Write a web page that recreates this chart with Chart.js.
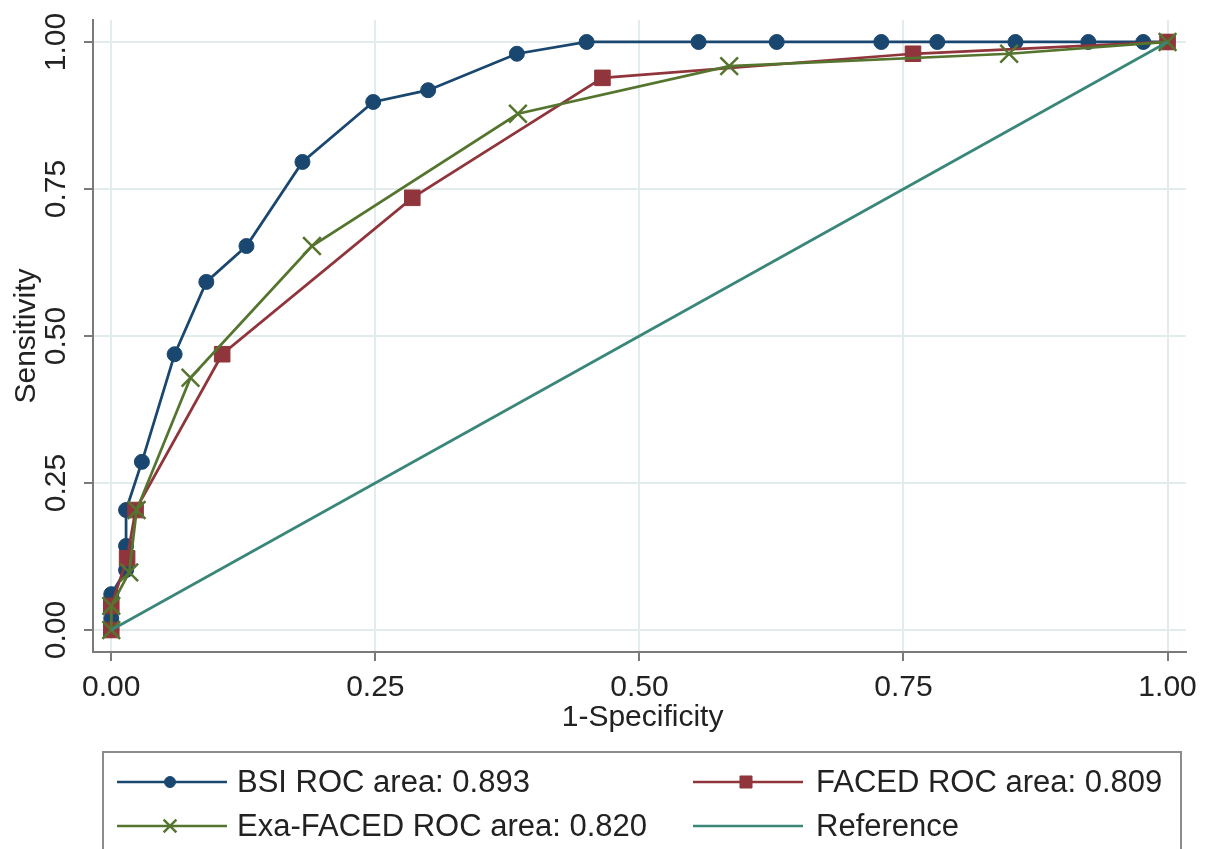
<!DOCTYPE html>
<html>
<head>
<meta charset="utf-8">
<script src="https://cdn.jsdelivr.net/npm/chart.js@4.4.1/dist/chart.umd.min.js"></script>
<style>
  html, body { margin: 0; padding: 0; background: #fff; }
  #wrap { width: 1206px; height: 849px; overflow: hidden; }
</style>
</head>
<body>
<div id="wrap"><canvas id="roc" width="1206" height="849"></canvas></div>
<script>
// 1-specificity / sensitivity pairs
const bsiFpr  = [0, 0, 0, 0.014, 0.014, 0.014, 0.029, 0.060, 0.090, 0.128, 0.181, 0.248, 0.300, 0.384, 0.450, 0.556, 0.630, 0.729, 0.782, 0.856, 0.925, 0.977, 1];
const bsiSens = [0, 0.020, 0.061, 0.102, 0.143, 0.204, 0.286, 0.469, 0.592, 0.653, 0.796, 0.898, 0.918, 0.980, 1, 1, 1, 1, 1, 1, 1, 1, 1];

const facedFpr  = [0, 0, 0.015, 0.023, 0.105, 0.285, 0.465, 0.759, 1];
const facedSens = [0, 0.041, 0.122, 0.204, 0.469, 0.735, 0.939, 0.980, 1];

const exaFpr  = [0, 0, 0.017, 0.024, 0.075, 0.190, 0.385, 0.585, 0.850, 1];
const exaSens = [0, 0.041, 0.098, 0.204, 0.429, 0.653, 0.878, 0.959, 0.980, 1];

const refFpr  = [0, 1];
const refSens = [0, 1];

const tickValues = [0, 0.25, 0.5, 0.75, 1];
const seriesLabels = ["BSI ROC area: 0.893", "FACED ROC area: 0.809", "Exa-FACED ROC area: 0.820", "Reference"];

const FONT = "'Liberation Sans', Arial, sans-serif";
const AXIS = '#7a7a7a';
const GRID = '#e3eced';
const TEXT = '#222';

Chart.defaults.font.family = FONT;

function pairs(xs, ys) {
    return xs.map((x, i) => ({ x: x, y: ys[i] }));
}

function fixedTicks(scale) {
    scale.ticks = tickValues.map(v => ({ value: v }));
}

// legend markers are a bit smaller than the ones in the plot
const legendMarks = [
    { style: 'circle', radius: 5.5 },
    { style: 'rect', radius: 8.5 },
    { style: 'crossRot', radius: 9 },
    { style: false, radius: 0 }
];

const stataExtras = {
    id: 'stataExtras',
    afterDraw(chart) {
        const ctx = chart.ctx;
        const yScale = chart.scales.y;
        const xScale = chart.scales.x;
        ctx.save();
        ctx.fillStyle = TEXT;
        ctx.font = "30px " + FONT;
        ctx.textAlign = 'center';
        ctx.textBaseline = 'middle';

        // vertical y tick labels
        tickValues.forEach(v => {
            const py = yScale.getPixelForValue(v);
            ctx.save();
            ctx.translate(57, py);
            ctx.rotate(-Math.PI / 2);
            ctx.fillText(v.toFixed(2), 0, 0);
            ctx.restore();
        });

        // axis titles
        ctx.save();
        ctx.translate(27, yScale.getPixelForValue(0.5));
        ctx.rotate(-Math.PI / 2);
        ctx.fillText("Sensitivity", 0, 0);
        ctx.restore();
        ctx.fillText("1-Specificity", xScale.getPixelForValue(0.503), 718);

        // legend box
        ctx.strokeStyle = '#8c8c8c';
        ctx.lineWidth = 2;
        ctx.strokeRect(103, 752, 1078, 130);

        const cols = [{ x0: 117, x1: 227, tx: 237 }, { x0: 693, x1: 803, tx: 816 }];
        const rows = [782, 826];
        const slots = [[0, 0], [1, 0], [0, 1], [1, 1]];
        ctx.textAlign = 'left';
        ctx.font = "31px " + FONT;
        chart.data.datasets.forEach((ds, i) => {
            const c = cols[slots[i][0]];
            const yy = rows[slots[i][1]];
            ctx.strokeStyle = ds.borderColor;
            ctx.lineWidth = 2.5;
            ctx.beginPath();
            ctx.moveTo(c.x0, yy);
            ctx.lineTo(c.x1, yy);
            ctx.stroke();
            const m = legendMarks[i];
            if (m.style) {
                ctx.fillStyle = ds.pointBackgroundColor;
                ctx.strokeStyle = ds.pointBorderColor;
                ctx.lineWidth = ds.pointBorderWidth;
                Chart.helpers.drawPoint(ctx, { pointStyle: m.style, radius: m.radius, rotation: 0, borderWidth: ds.pointBorderWidth }, (c.x0 + c.x1) / 2 - 2, yy);
            }
            ctx.fillStyle = TEXT;
            ctx.fillText(ds.label, c.tx, yy + 1);
        });
        ctx.restore();
    }
};

new Chart(document.getElementById('roc').getContext('2d'), {
    type: 'scatter',
    data: {
        datasets: [
            {
                label: seriesLabels[0],
                data: pairs(bsiFpr, bsiSens),
                showLine: true,
                borderColor: '#1a476f',
                borderWidth: 2.75,
                pointStyle: 'circle',
                pointRadius: 7.5,
                pointBackgroundColor: '#1a476f',
                pointBorderColor: '#1a476f',
                pointBorderWidth: 1,
                order: 4
            },
            {
                label: seriesLabels[1],
                data: pairs(facedFpr, facedSens),
                showLine: true,
                borderColor: '#90353b',
                borderWidth: 2.75,
                pointStyle: 'rect',
                pointRadius: 11,
                pointBackgroundColor: '#90353b',
                pointBorderColor: '#90353b',
                pointBorderWidth: 1,
                order: 3
            },
            {
                label: seriesLabels[2],
                data: pairs(exaFpr, exaSens),
                showLine: true,
                borderColor: '#55752f',
                borderWidth: 2.75,
                pointStyle: 'crossRot',
                pointRadius: 12.5,
                pointBackgroundColor: '#55752f',
                pointBorderColor: '#55752f',
                pointBorderWidth: 2.5,
                order: 2
            },
            {
                label: seriesLabels[3],
                data: pairs(refFpr, refSens),
                showLine: true,
                borderColor: '#3a877a',
                borderWidth: 2.75,
                pointRadius: 0,
                pointBackgroundColor: '#3a877a',
                pointBorderColor: '#3a877a',
                pointBorderWidth: 0,
                order: 1
            }
        ]
    },
    options: {
        responsive: false,
        animation: false,
        layout: { padding: { left: 0, top: 20, right: 15, bottom: 0 } },
        plugins: {
            legend: { display: false },
            tooltip: { enabled: false }
        },
        scales: {
            x: {
                type: 'linear',
                min: -0.0173,
                max: 1.0173,
                afterBuildTicks: fixedTicks,
                afterFit: s => { s.height = 197; },
                ticks: {
                    font: { size: 30 },
                    color: TEXT,
                    padding: 9,
                    maxRotation: 0,
                    callback: v => v.toFixed(2)
                },
                grid: { color: GRID, lineWidth: 2, tickLength: 9, tickColor: AXIS, tickWidth: 2 },
                border: { color: AXIS, width: 2 }
            },
            y: {
                type: 'linear',
                min: -0.0374,
                max: 1.0374,
                afterBuildTicks: fixedTicks,
                afterFit: s => { s.width = 93; },
                ticks: { display: false },
                grid: { color: GRID, lineWidth: 2, tickLength: 9, tickColor: AXIS, tickWidth: 2 },
                border: { color: AXIS, width: 2 }
            }
        }
    },
    plugins: [stataExtras]
});
</script>
</body>
</html>
